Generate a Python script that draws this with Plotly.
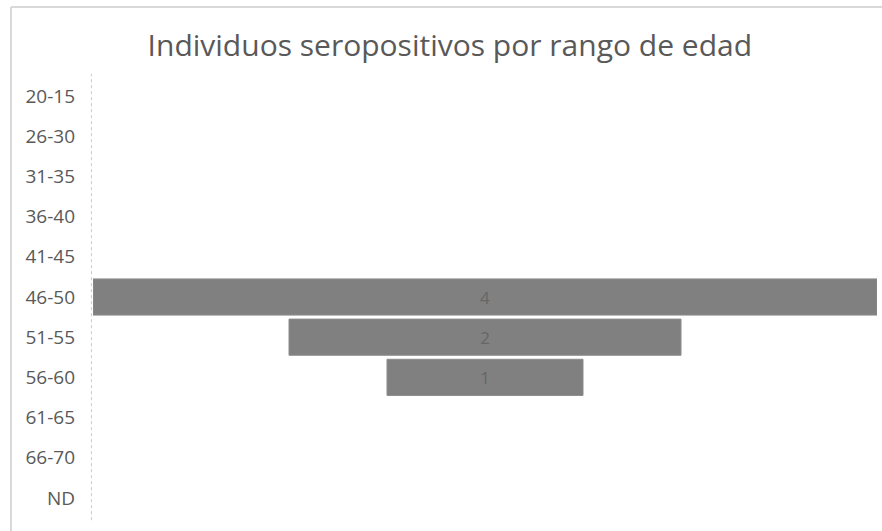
import plotly.graph_objects as go

categories = ["20-15", "26-30", "31-35", "36-40", "41-45", "46-50",
              "51-55", "56-60", "61-65", "66-70", "ND"]
values = [0, 0, 0, 0, 0, 4, 2, 1, 0, 0, 0]
title_text = "Individuos seropositivos por rango de edad"

labels = [str(v) if v > 0 else "" for v in values]
line_widths = [1 if v > 0 else 0 for v in values]

fig = go.Figure(go.Funnel(
    y=categories,
    x=values,
    text=labels,
    textinfo="text",
    textposition="inside",
    insidetextanchor="middle",
    textfont=dict(family="Open Sans, Arial", size=17, color="#666666"),
    marker=dict(color="#808080", line=dict(color="#8c8c8c", width=line_widths)),
    connector=dict(visible=False),
    width=0.9,
))

fig.update_layout(
    width=882, height=531,
    margin=dict(l=93, r=5, t=76, b=13),
    paper_bgcolor="white", plot_bgcolor="white",
    showlegend=False,
    title=dict(text=title_text, x=0.51, xanchor="center", y=0.915, yanchor="middle",
               font=dict(family="Open Sans, Arial", size=30, color="#595959")),
    xaxis=dict(visible=False, range=[-2, 2], fixedrange=True),
    yaxis=dict(showgrid=False, zeroline=False, showline=False, ticks="",
               tickfont=dict(family="Open Sans, Arial", size=19, color="#595959"),
               ticklabelstandoff=17, autorange="reversed"),
    shapes=[
        dict(type="line", xref="paper", yref="paper", x0=-0.002, x1=-0.002, y0=-0.005, y1=1.005,
             line=dict(color="#c8c8c8", width=1, dash="dot")),
        dict(type="line", xref="paper", yref="paper", x0=-0.1046, x1=1.01, y0=1.156, y1=1.156,
             line=dict(color="#d9d9d9", width=2)),
        dict(type="line", xref="paper", yref="paper", x0=-0.1046, x1=-0.1046, y0=-0.04, y1=1.156,
             line=dict(color="#d9d9d9", width=2)),
    ],
)

fig.write_html("out.html")
